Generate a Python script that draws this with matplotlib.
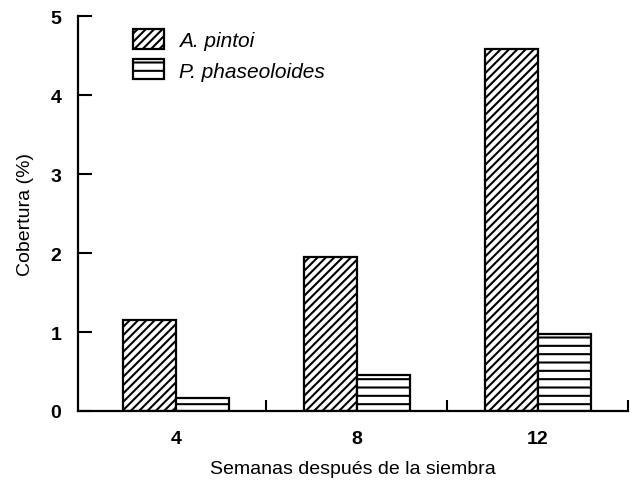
import matplotlib
matplotlib.use('Agg')
import matplotlib.pyplot as plt
import numpy as np

plt.rcParams['font.family'] = ['Liberation Sans', 'DejaVu Sans']
plt.rcParams['hatch.linewidth'] = 1.5

weeks = ['4', '8', '12']
pintoi = [1.15, 1.95, 4.58]
phaseoloides = [0.16, 0.46, 0.97]

fig = plt.figure(figsize=(6.35, 4.89), dpi=100)
ax = fig.add_axes([0.123, 0.1575, 0.866, 0.8075])

x = np.arange(len(weeks))
w = 0.293
ax.bar(x - w / 2, pintoi, w, facecolor='white', edgecolor='black',
       linewidth=1.6, hatch='////', label='A. pintoi')
ax.bar(x + w / 2, phaseoloides, w, facecolor='white', edgecolor='black',
       linewidth=1.6, hatch='--', label='P. phaseoloides')

ax.set_xlim(-0.54, 2.5)
ax.set_ylim(0, 5)
ax.set_xticks(x)
ax.set_xticklabels(weeks, fontweight='bold')
ax.set_xticks([0.5, 1.5, 2.5], minor=True)
ax.tick_params(axis='x', which='major', length=0, labelsize=14, pad=14)
ax.tick_params(axis='x', which='minor', direction='in', length=8, width=1.5)
ax.set_yticks(range(6))
ax.set_yticklabels([str(v) for v in range(6)], fontweight='bold')
ax.tick_params(axis='y', direction='in', length=10, width=1.5, labelsize=14, pad=12)

for s in ['top', 'right']:
    ax.spines[s].set_visible(False)
for s in ['left', 'bottom']:
    ax.spines[s].set_linewidth(1.6)

ax.set_xlabel('Semanas después de la siembra', fontsize=14, labelpad=9)
ax.set_ylabel('Cobertura (%)', fontsize=14, labelpad=12)

leg = ax.legend(loc='upper left', bbox_to_anchor=(133 / 635, 1 - 30 / 489),
                bbox_transform=fig.transFigure, frameon=False,
                fontsize=15, handlelength=1.5, handleheight=1.1,
                labelspacing=0.45, handletextpad=0.7,
                borderpad=0, borderaxespad=0)
for t in leg.get_texts():
    t.set_fontstyle('italic')

fig.savefig('out.png', dpi=100)
